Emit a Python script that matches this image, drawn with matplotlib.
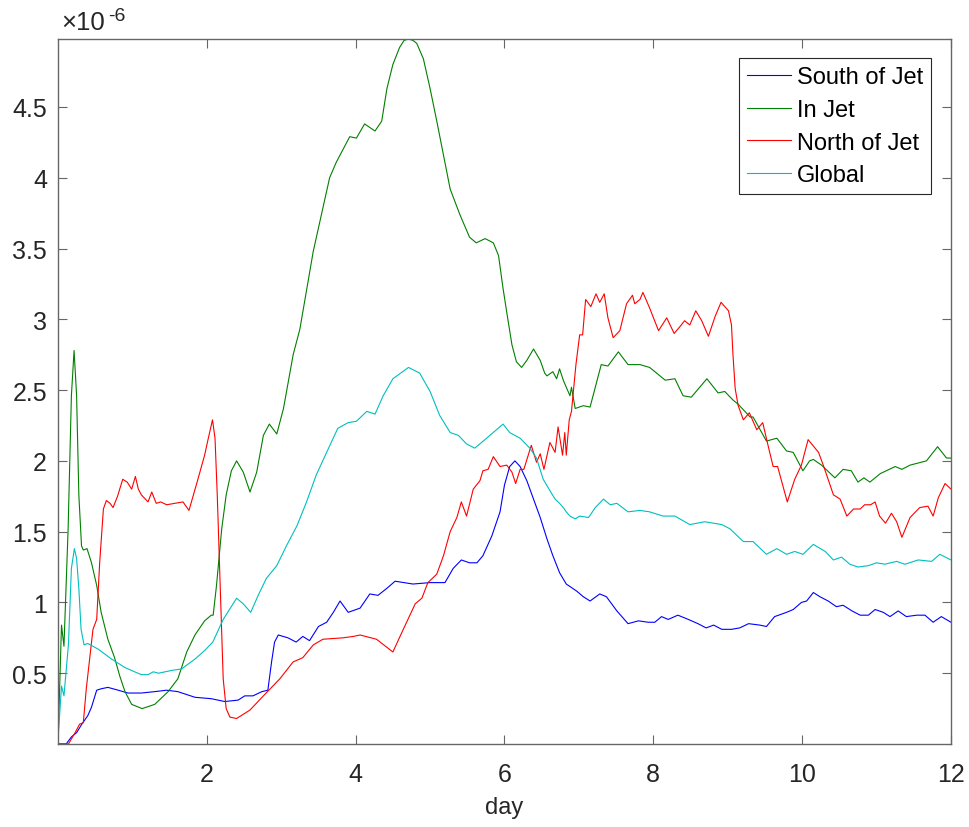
import numpy as np
import matplotlib.pyplot as plt

plt.rcParams['font.family'] = ['Liberation Sans', 'DejaVu Sans']

# energy time series, values in units of 1e-6
south_day = [0, 0.11, 0.18, 0.25, 0.32, 0.40, 0.45, 0.52, 0.58, 0.67, 0.81, 0.94, 1.12, 1.30, 1.46,
             1.61, 1.84, 2.06, 2.24, 2.42, 2.51, 2.62, 2.74, 2.82, 2.87, 2.91, 2.96, 3.09, 3.20, 3.29,
             3.38, 3.50, 3.61, 3.70, 3.79, 3.90, 4.06, 4.19, 4.30, 4.42, 4.53, 4.77, 5.00, 5.20, 5.31,
             5.42, 5.53, 5.63, 5.71, 5.83, 5.94, 6.00, 6.07, 6.14, 6.21, 6.30, 6.39, 6.48, 6.57, 6.65,
             6.74, 6.83, 6.97, 7.06, 7.15, 7.28, 7.37, 7.51, 7.66, 7.80, 7.93, 8.02, 8.11, 8.20, 8.33,
             8.47, 8.60, 8.71, 8.81, 8.92, 9.05, 9.16, 9.28, 9.43, 9.52, 9.63, 9.79, 9.88, 9.99, 10.06,
             10.15, 10.24, 10.35, 10.46, 10.55, 10.67, 10.78, 10.89, 10.98, 11.09, 11.18, 11.29, 11.40,
             11.54, 11.65, 11.76, 11.87, 12.0]
south_val = [0, 0, 0.05, 0.08, 0.14, 0.20, 0.26, 0.38, 0.39, 0.40, 0.38, 0.36, 0.36, 0.37, 0.38,
             0.37, 0.33, 0.32, 0.30, 0.31, 0.34, 0.34, 0.37, 0.38, 0.58, 0.72, 0.77, 0.75, 0.72, 0.76,
             0.73, 0.83, 0.86, 0.93, 1.01, 0.93, 0.96, 1.06, 1.05, 1.10, 1.15, 1.13, 1.14, 1.14, 1.24,
             1.30, 1.28, 1.28, 1.33, 1.47, 1.64, 1.83, 1.96, 2.00, 1.96, 1.86, 1.73, 1.60, 1.45, 1.33,
             1.21, 1.13, 1.08, 1.04, 1.01, 1.06, 1.04, 0.94, 0.85, 0.87, 0.86, 0.86, 0.90, 0.88, 0.91,
             0.88, 0.85, 0.82, 0.84, 0.81, 0.81, 0.82, 0.85, 0.84, 0.83, 0.90, 0.93, 0.95, 1.00, 1.01,
             1.07, 1.04, 1.01, 0.97, 0.98, 0.94, 0.91, 0.91, 0.95, 0.93, 0.90, 0.94, 0.90,
             0.91, 0.91, 0.86, 0.90, 0.86]

injet_day = [0, 0.047, 0.08, 0.136, 0.18, 0.216, 0.25, 0.28, 0.316, 0.34, 0.39, 0.45, 0.52, 0.58,
             0.67, 0.76, 0.83, 0.90, 0.99, 1.13, 1.30, 1.48, 1.61, 1.73, 1.84, 1.97, 2.06, 2.085,
             2.13, 2.20, 2.26, 2.33, 2.40, 2.49, 2.58, 2.67, 2.76, 2.84, 2.94, 3.03, 3.16, 3.25, 3.43,
             3.65, 3.74, 3.92, 4.01, 4.12, 4.26, 4.35, 4.42, 4.50, 4.59, 4.65, 4.71, 4.77, 4.82, 4.91,
             5.00, 5.09, 5.18, 5.27, 5.40, 5.53, 5.62, 5.74, 5.85, 5.92, 5.98, 6.03, 6.10, 6.16, 6.23,
             6.30, 6.39, 6.48, 6.54, 6.57, 6.65, 6.70, 6.74, 6.79, 6.83, 6.88, 6.90, 6.95, 7.06, 7.15,
             7.30, 7.39, 7.53, 7.66, 7.82, 7.95, 8.16, 8.29, 8.40, 8.51, 8.72, 8.87, 8.96, 9.07, 9.14,
             9.30, 9.34, 9.52, 9.66, 9.79, 9.88, 10.01, 10.10, 10.15, 10.26, 10.44, 10.55, 10.66,
             10.75, 10.83, 10.91, 10.98, 11.05, 11.25, 11.34, 11.45, 11.67, 11.82, 11.94, 12.0]
injet_val = [0, 0.84, 0.69, 1.52, 2.46, 2.78, 2.46, 1.76, 1.40, 1.37, 1.38, 1.28, 1.12, 0.93,
             0.74, 0.61, 0.48, 0.37, 0.28, 0.25, 0.28, 0.37, 0.46, 0.65, 0.77, 0.87, 0.91, 0.91,
             1.12, 1.52, 1.76, 1.93, 2.00, 1.92, 1.78, 1.92, 2.18, 2.26, 2.19, 2.37, 2.75, 2.93, 3.48,
             4.00, 4.11, 4.29, 4.28, 4.38, 4.33, 4.40, 4.63, 4.80, 4.92, 4.97, 4.98, 4.97, 4.95, 4.84,
             4.63, 4.40, 4.16, 3.92, 3.74, 3.58, 3.54, 3.57, 3.54, 3.45, 3.22, 3.05, 2.82, 2.70, 2.66,
             2.71, 2.79, 2.71, 2.62, 2.60, 2.63, 2.58, 2.65, 2.57, 2.52, 2.46, 2.52, 2.37, 2.39, 2.38,
             2.68, 2.67, 2.77, 2.68, 2.68, 2.66, 2.57, 2.58, 2.46, 2.45, 2.58, 2.48, 2.49, 2.43, 2.40,
             2.31, 2.31, 2.14, 2.16, 2.07, 2.06, 1.93, 2.00, 2.01, 1.97, 1.88, 1.94, 1.93,
             1.85, 1.88, 1.85, 1.88, 1.91, 1.96, 1.94, 1.97, 2.00, 2.10, 2.02, 2.02]

north_day = [0, 0.14, 0.23, 0.29, 0.34, 0.38, 0.43, 0.47, 0.52, 0.56, 0.61, 0.65, 0.70, 0.74, 0.80,
             0.87, 0.93, 0.99, 1.04, 1.08, 1.12, 1.21, 1.26, 1.32, 1.38, 1.46, 1.68, 1.76, 1.88, 1.97,
             2.02, 2.076, 2.11, 2.14, 2.17, 2.20, 2.22, 2.26, 2.31, 2.40, 2.58, 2.76, 2.98, 3.16, 3.29,
             3.43, 3.56, 3.83, 3.97, 4.06, 4.28, 4.50, 4.64, 4.80, 4.89, 4.97, 5.09, 5.18, 5.27, 5.36,
             5.42, 5.49, 5.58, 5.67, 5.71, 5.78, 5.85, 5.94, 6.03, 6.10, 6.15, 6.21, 6.26, 6.36, 6.43,
             6.48, 6.53, 6.61, 6.68, 6.72, 6.78, 6.81, 6.83, 6.87, 6.90, 6.96, 7.01, 7.05, 7.09, 7.16,
             7.23, 7.28, 7.34, 7.39, 7.46, 7.55, 7.64, 7.72, 7.75, 7.82, 7.86, 7.95, 8.07, 8.18, 8.28,
             8.36, 8.42, 8.49, 8.57, 8.65, 8.74, 8.83, 8.91, 9.01, 9.05, 9.07, 9.10, 9.14, 9.21, 9.29,
             9.39, 9.47, 9.55, 9.61, 9.67, 9.80, 9.90, 9.99, 10.08, 10.22, 10.29, 10.42, 10.51, 10.60,
             10.69, 10.78, 10.84, 10.92, 10.98, 11.04, 11.12, 11.20, 11.27, 11.34, 11.45, 11.58,
             11.69, 11.76, 11.83, 11.92, 12.0]
north_val = [0, 0, 0.08, 0.14, 0.15, 0.39, 0.62, 0.81, 0.88, 1.28, 1.66, 1.72, 1.70, 1.67, 1.75,
             1.87, 1.85, 1.80, 1.89, 1.80, 1.76, 1.71, 1.78, 1.70, 1.71, 1.69, 1.71, 1.65, 1.87, 2.04,
             2.16, 2.29, 2.16, 1.76, 1.28, 0.81, 0.46, 0.25, 0.19, 0.18, 0.24, 0.34, 0.46, 0.58, 0.61,
             0.70, 0.74, 0.75, 0.76, 0.77, 0.74, 0.65, 0.81, 0.99, 1.03, 1.14, 1.20, 1.33, 1.50, 1.60,
             1.71, 1.61, 1.80, 1.86, 1.93, 1.94, 2.03, 1.96, 1.97, 1.92, 1.84, 1.94, 1.94, 2.11, 1.99,
             2.05, 1.94, 2.13, 2.06, 2.24, 2.04, 2.20, 2.04, 2.29, 2.35, 2.68, 2.89, 2.89, 3.14, 3.09,
             3.18, 3.12, 3.18, 3.01, 2.87, 2.92, 3.11, 3.17, 3.11, 3.14, 3.19, 3.08, 2.92, 3.01, 2.90,
             2.95, 2.99, 2.96, 3.06, 2.99, 2.88, 3.02, 3.12, 3.06, 2.96, 2.75, 2.51, 2.39, 2.29, 2.34,
             2.22, 2.27, 2.09, 1.96, 1.96, 1.71, 1.87, 1.97, 2.15, 2.06, 1.96, 1.76, 1.73, 1.61,
             1.66, 1.66, 1.69, 1.69, 1.71, 1.61, 1.56, 1.63, 1.57, 1.46, 1.60, 1.67,
             1.68, 1.61, 1.74, 1.84, 1.80]

global_day = [0, 0.047, 0.08, 0.14, 0.18, 0.22, 0.25, 0.28, 0.31, 0.35, 0.40, 0.54, 0.72, 0.90, 1.03,
              1.12, 1.21, 1.28, 1.35, 1.53, 1.66, 1.84, 1.97, 2.08, 2.22, 2.40, 2.49, 2.59, 2.69, 2.80,
              2.94, 3.07, 3.21, 3.34, 3.47, 3.61, 3.76, 3.90, 4.01, 4.15, 4.26, 4.37, 4.50, 4.71, 4.86,
              5.00, 5.13, 5.27, 5.38, 5.49, 5.60, 5.76, 5.98, 6.07, 6.21, 6.34, 6.43, 6.52, 6.61, 6.68,
              6.74, 6.79, 6.83, 6.88, 6.95, 7.01, 7.13, 7.22, 7.33, 7.42, 7.51, 7.66, 7.82, 7.95, 8.13,
              8.29, 8.49, 8.69, 8.92, 9.03, 9.21, 9.34, 9.52, 9.66, 9.79, 9.90, 10.01, 10.15, 10.31,
              10.42, 10.53, 10.64, 10.75, 10.89, 11.00, 11.11, 11.27, 11.38, 11.56, 11.74, 11.85, 12.0]
global_val = [0.03, 0.41, 0.34, 0.70, 1.24, 1.38, 1.31, 1.10, 0.81, 0.70, 0.71, 0.67, 0.60, 0.54, 0.51,
              0.49, 0.49, 0.51, 0.50, 0.52, 0.53, 0.60, 0.66, 0.72, 0.88, 1.03, 0.99, 0.93, 1.05, 1.17,
              1.26, 1.40, 1.54, 1.71, 1.90, 2.06, 2.23, 2.27, 2.28, 2.35, 2.33, 2.46, 2.58, 2.66, 2.62,
              2.49, 2.32, 2.20, 2.18, 2.12, 2.09, 2.16, 2.26, 2.20, 2.16, 2.09, 2.02, 1.87, 1.79, 1.73,
              1.70, 1.67, 1.64, 1.61, 1.59, 1.61, 1.60, 1.67, 1.73, 1.69, 1.70, 1.64, 1.65, 1.64, 1.61,
              1.61, 1.55, 1.57, 1.55, 1.52, 1.43, 1.43, 1.34, 1.38, 1.34, 1.36, 1.34, 1.41, 1.36,
              1.30, 1.32, 1.27, 1.25, 1.26, 1.28, 1.27, 1.29, 1.27, 1.30, 1.29, 1.34, 1.30]

series_names = ['South of Jet', 'In Jet', 'North of Jet', 'Global']
series_colors = ['#0000ff', '#008000', '#ff0000', '#00bfbf']
xticks = [2, 4, 6, 8, 10, 12]
yticks = [0.5, 1, 1.5, 2, 2.5, 3, 3.5, 4, 4.5]
ytick_labels = ['0.5', '1', '1.5', '2', '2.5', '3', '3.5', '4', '4.5']

fig = plt.figure(figsize=(9.7, 8.28), dpi=100)
ax = fig.add_axes([58 / 970, 83 / 828, 893 / 970, 705 / 828])

all_days = [south_day, injet_day, north_day, global_day]
all_vals = [south_val, injet_val, north_val, global_val]
for d, v, name, c in zip(all_days, all_vals, series_names, series_colors):
    ax.plot(d, v, color=c, lw=0.8, label=name, solid_joinstyle='round')

ymax = max(max(v) for v in all_vals)
ax.set_xlim(0, 12)
ax.set_ylim(0, ymax)
ax.set_xticks(xticks)
ax.set_xticklabels([str(t) for t in xticks])
ax.set_yticks(yticks)
ax.set_yticklabels(ytick_labels)

axcol = '#666666'
for s in ax.spines.values():
    s.set_color(axcol)
    s.set_linewidth(1.0)
ax.tick_params(direction='in', length=6.5, width=0.8, color=axcol, labelcolor='#262626',
               labelsize=18, top=True, right=True)
ax.tick_params(axis='x', pad=13)
ax.tick_params(axis='y', pad=8)
ax.set_xlabel('day', fontsize=17, color='#262626', labelpad=7)

# exponent label in the corner
ax.text(0.004, 1.007, '\u00d710', transform=ax.transAxes, fontsize=18.5, color='#262626',
        ha='left', va='bottom')
ax.text(0.056, 1.021, '-6', transform=ax.transAxes, fontsize=14, color='#262626',
        ha='left', va='bottom')

leg = ax.legend(loc='upper right', bbox_to_anchor=(0.978, 0.973), borderaxespad=0,
                fontsize=17, fancybox=False, framealpha=1, edgecolor='#262626',
                handlelength=1.87, handletextpad=0.25, labelspacing=0.45, borderpad=0.35)
leg.get_frame().set_linewidth(0.8)

fig.savefig('out.png', dpi=100)
